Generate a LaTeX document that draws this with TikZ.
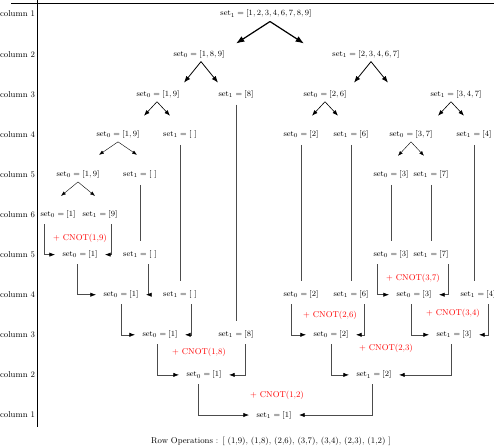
\documentclass[tikz,border=0pt]{standalone}
\usetikzlibrary{arrows.meta}
\begin{document}
\begin{tikzpicture}[x=1pt, y=-1pt,
    every node/.style={font=\fontsize{8.5}{10}\selectfont},
    cnot/.style={text=red},
    branch/.style={black, -{Latex}, line width=#1},
    pass/.style={draw=black!70, semithick, shorten <=3pt, shorten >=6pt},
    merge/.style={draw=black!70, semithick, -{Latex[color=black]}, shorten <=2pt, shorten >=4pt}]
    \useasboundingbox (0,0) rectangle (494,447);
    \draw[thick] (11,3) -- (500,3);
    \draw[semithick] (37,0) -- (37,427);
    \foreach \n [count=\i from 0] in {1,2,3,4,5,6,5,4,3,2,1}
        \node (col\i) at (17.5,{14+40.1*\i}) {column \n};
    \node (A) at (266,14) {$\mathrm{set}_1 = [1,2,3,4,6,7,8,9]$};
    \node (B0) at (199,54.1) {$\mathrm{set}_0 = [1,8,9]$};
    \node (B1) at (366,54.1) {$\mathrm{set}_1 = [2,3,4,6,7]$};
    \node (C0) at (158,94.2) {$\mathrm{set}_0 = [1,9]$};
    \node (C1) at (236,94.2) {$\mathrm{set}_1 = [8]$};
    \node (C2) at (325,94.2) {$\mathrm{set}_0 = [2,6]$};
    \node (C3) at (456,94.2) {$\mathrm{set}_1 = [3,4,7]$};
    \node (D0) at (118,134.3) {$\mathrm{set}_0 = [1,9]$};
    \node (D1) at (180,134.3) {$\mathrm{set}_1 = [\ ]$};
    \node (D2) at (301,134.3) {$\mathrm{set}_0 = [2]$};
    \node (D3) at (351,134.3) {$\mathrm{set}_1 = [6]$};
    \node (D4) at (411,134.3) {$\mathrm{set}_0 = [3,7]$};
    \node (D5) at (474,134.3) {$\mathrm{set}_1 = [4]$};
    \node (E0) at (78,174.4) {$\mathrm{set}_0 = [1,9]$};
    \node (E1) at (140,174.4) {$\mathrm{set}_1 = [\ ]$};
    \node (E2) at (391,174.4) {$\mathrm{set}_0 = [3]$};
    \node (E3) at (431,174.4) {$\mathrm{set}_1 = [7]$};
    \node (F0) at (58,214.5) {$\mathrm{set}_0 = [1]$};
    \node (F1) at (100,214.5) {$\mathrm{set}_1 = [9]$};
    \node (G0) at (80,254.6) {$\mathrm{set}_0 = [1]$};
    \node (G1) at (140,254.6) {$\mathrm{set}_1 = [\ ]$};
    \node (G2) at (391,254.6) {$\mathrm{set}_0 = [3]$};
    \node (G3) at (431,254.6) {$\mathrm{set}_1 = [7]$};
    \node (H0) at (121,294.7) {$\mathrm{set}_0 = [1]$};
    \node (H1) at (180,294.7) {$\mathrm{set}_1 = [\ ]$};
    \node (H2) at (301,294.7) {$\mathrm{set}_0 = [2]$};
    \node (H3) at (351,294.7) {$\mathrm{set}_1 = [6]$};
    \node (H4) at (414,294.7) {$\mathrm{set}_0 = [3]$};
    \node (H5) at (478,294.7) {$\mathrm{set}_1 = [4]$};
    \node (I0) at (160,334.8) {$\mathrm{set}_0 = [1]$};
    \node (I1) at (236,334.8) {$\mathrm{set}_1 = [8]$};
    \node (I2) at (331,334.8) {$\mathrm{set}_0 = [2]$};
    \node (I3) at (454,334.8) {$\mathrm{set}_1 = [3]$};
    \node (J0) at (204,374.9) {$\mathrm{set}_0 = [1]$};
    \node (J1) at (374,374.9) {$\mathrm{set}_1 = [2]$};
    \node (K) at (274,415) {$\mathrm{set}_1 = [1]$};
    \node[cnot] (op19) at (80,238) {+ CNOT(1,9)};
    \node[cnot] (op37) at (413,278) {+ CNOT(3,7)};
    \node[cnot] (op26) at (330,315) {+ CNOT(2,6)};
    \node[cnot] (op34) at (453,313) {+ CNOT(3,4)};
    \node[cnot] (op18) at (199,352) {+ CNOT(1,8)};
    \node[cnot] (op23) at (386,348) {+ CNOT(2,3)};
    \node[cnot] (op12) at (277,395) {+ CNOT(1,2)};
    \node (ops) at (271,441) {Row Operations : [ (1,9), (1,8), (2,6), (3,7), (3,4), (2,3), (1,2) ]};
    \foreach \s in {-1,1}
        \draw[branch=1.2pt] ([xshift=4pt]A.south) -- ++(\s*34,22);
    \foreach \p/\dx in {B0/2, B1/5}
    \foreach \s in {-1,1}
        \draw[branch=0.8pt] ([xshift=\dx pt]\p.south) -- ++(\s*17,21);
    \foreach \p/\dx in {C0/-1, C2/0, C3/-5}
    \foreach \s in {-1,1}
        \draw[branch=0.6pt] ([xshift=\dx pt]\p.south) -- ++(\s*13,14);
    \foreach \s in {-1,1}
        \draw[branch=0.4pt] (D0.south) -- ++(\s*19,13);
    \foreach \s in {-1,1}
        \draw[branch=0.4pt] (D4.south) -- ++(\s*13,14);
    \foreach \s in {-1,1}
        \draw[branch=0.4pt] (E0.south) -- ++(\s*17,14);
    \foreach \u/\v in {C1/I1, D1/H1, D2/H2, D3/H3, E1/G1, E2/G2, E3/G3}
        \draw[pass] (\u) -- (\v);
    \draw[pass] (D5.south) -- (D5.south |- H5.north);
    \foreach \u/\dx/\v in {F0/-14/G0, G0/-3/H0, H0/0/I0, I0/-3/J0, J0/-6/K,
        H2/-10/I2, I2/0/J1, G2/-14/H4, H4/-3/I3}
        \draw[merge] ([xshift=\dx pt]\u.south) |- (\v.west);
    \foreach \u/\dx/\v in {F1/11/G0, G1/8/H0, H1/11/I0, I1/9/J0, J1/-2/K,
        H3/13/I2, I3/-3/J1, G3/17/H4, H5/10/I3}
        \draw[merge] ([xshift=\dx pt]\u.south) |- (\v.east);
\end{tikzpicture}
\end{document}
